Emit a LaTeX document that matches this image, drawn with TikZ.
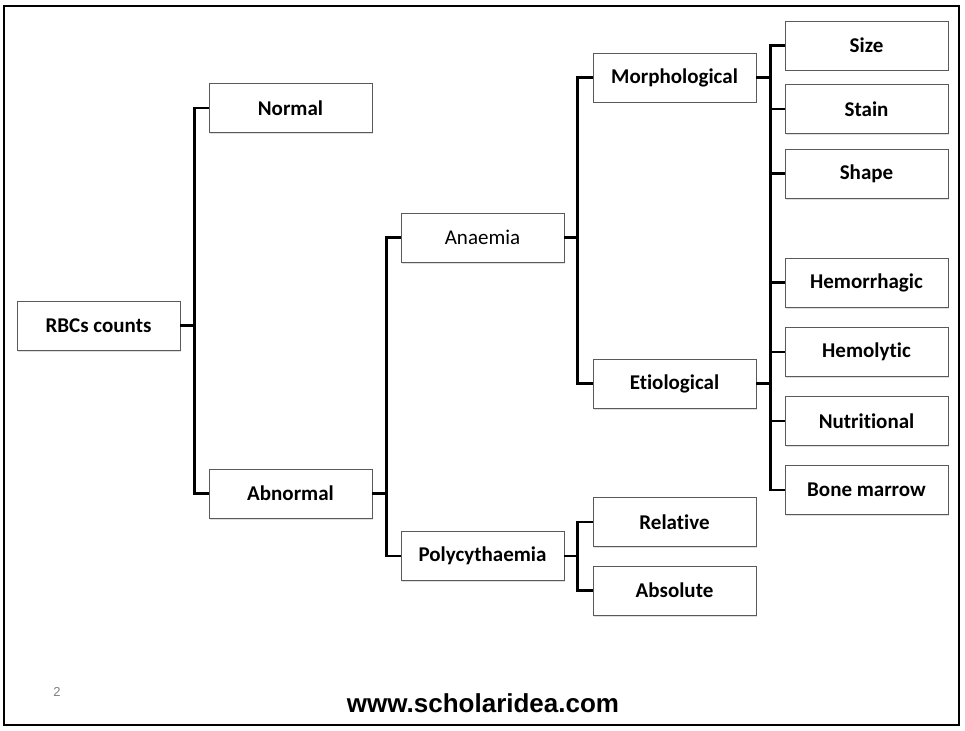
\documentclass[tikz,border=0pt]{standalone}
\usepackage{fontspec}
\setmainfont{Carlito}[Ligatures=NoCommon]
\newfontfamily\webfont{Liberation Sans}
\usetikzlibrary{shadows}
\definecolor{boxline}{RGB}{90,90,90}
\tikzset{
  box/.style={draw=boxline, line width=0.9pt, fill=white, minimum width=163pt, minimum height=49pt,
    inner sep=0pt, font=\fontsize{21}{25}\selectfont\bfseries,
    drop shadow={shadow xshift=1.2pt, shadow yshift=-1.5pt, opacity=0.25}},
  plainbox/.style={box, font=\fontsize{21}{25}\selectfont},
  conn/.style={line width=2.2pt, black}
}
\begin{document}
\begin{tikzpicture}[x=1pt,y=-1pt]
\useasboundingbox (0,0) rectangle (965,730);
\draw[line width=2.2pt] (4,6) rectangle (959,725);
% level 0
\node[box] (rbc) at (98.5,325.5) {RBCs counts};
% level 1
\node[box] (normal) at (290.5,108) {Normal};
\node[box] (abnormal) at (290.5,493.5) {Abnormal};
% level 2
\node[plainbox] (anaemia) at (482.5,237.5) {Anaemia};
\node[box] (poly) at (482.5,556) {Polycythaemia};
% level 3
\node[box] (morph) at (674.5,77.5) {Morphological};
\node[box] (etio) at (674.5,383.5) {Etiological};
\node[box] (relative) at (674.5,522) {Relative};
\node[box] (absolute) at (674.5,590.5) {Absolute};
% level 4
\node[box] (size) at (866.5,45.5) {Size};
\node[box] (stain) at (866.5,109) {Stain};
\node[box] (shape) at (866.5,173.5) {Shape};
\node[box] (hemorr) at (866.5,282.5) {Hemorrhagic};
\node[box] (hemol) at (866.5,352) {Hemolytic};
\node[box] (nutri) at (866.5,421) {Nutritional};
\node[box] (bone) at (866.5,490) {Bone marrow};
% connectors
\draw[conn] (rbc.east) -- ++(15,0);
\draw[conn] (normal.west) -- ++(-14,0) |- (abnormal.west);
\draw[conn] (abnormal.east) -- ++(15,0);
\draw[conn] (anaemia.west) -- ++(-14,0) |- (poly.west);
\draw[conn] (anaemia.east) -- ++(14,0);
\draw[conn] (morph.west) -- ++(-15,0) |- (etio.west);
\draw[conn] (poly.east) -- ++(14,0);
\draw[conn] (relative.west) -- ++(-15,0) |- (absolute.west);
\draw[conn] (morph.east) -- ++(15,0);
\draw[conn] (etio.east) -- ++(15,0);
\draw[conn] (size.west) -- ++(-14,0) |- (bone.west);
\draw[conn] (stain.west) -- ++(-14,0);
\draw[conn] (shape.west) -- ++(-14,0);
\draw[conn] (hemorr.west) -- ++(-14,0);
\draw[conn] (hemol.west) -- ++(-14,0);
\draw[conn] (nutri.west) -- ++(-14,0);
% footer
\node[font=\webfont\fontsize{13}{15}\selectfont, text=gray] (pagenum) at (57,692) {2};
\node[font=\webfont\fontsize{26}{30}\selectfont\bfseries] (web) at (483,703) {www.scholaridea.com};
\end{tikzpicture}
\end{document}
